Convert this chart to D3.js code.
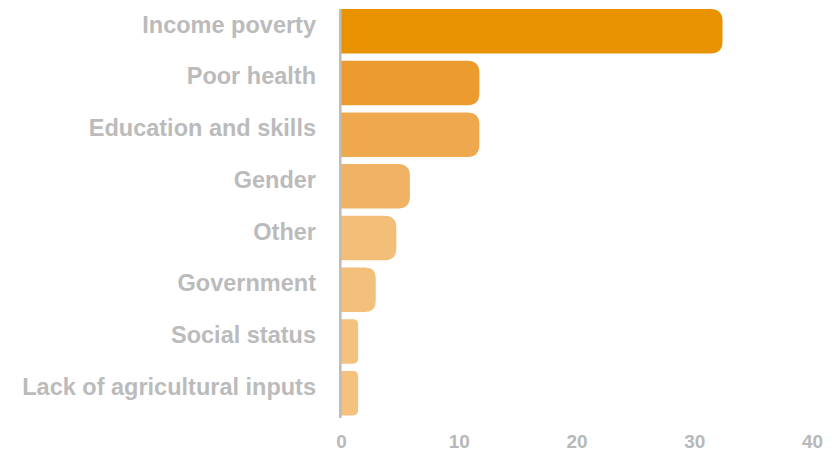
<!DOCTYPE html>
<html>
<head>
<meta charset="utf-8">
<script src="https://cdn.jsdelivr.net/npm/d3@7"></script>
<style>
  html, body { margin: 0; padding: 0; background: #ffffff; }
  svg { display: block; }
</style>
</head>
<body>
<svg id="chart" width="832" height="454"></svg>
<script>
// Barriers, share of responses (%)
const categories = [
  "Income poverty",
  "Poor health",
  "Education and skills",
  "Gender",
  "Other",
  "Government",
  "Social status",
  "Lack of agricultural inputs"
];
const values = [32.4, 11.75, 11.75, 5.85, 4.7, 2.95, 1.45, 1.45];
const barColors = ["#E89200", "#EC9C2F", "#EEA94F", "#F0B264", "#F3BE78", "#F3C07B", "#F4C27E", "#F4C27E"];
const tickValues = [0, 10, 20, 30, 40];

const svg = d3.select("#chart");
const labelGray = "#BBBBBB";

const x = d3.scaleLinear().domain([0, 40]).range([341, 812]);
const y = d3.scaleBand()
  .domain(categories)
  .range([9, 415.4])
  .paddingInner(0.14)
  .paddingOuter(0);

// bar with rounded right end only
function barPath(x0, x1, y0, h) {
  const w = x1 - x0;
  const r = Math.min(12, w * 0.3, h / 2);
  return `M${x0},${y0}` +
    `H${x1 - r}` +
    `Q${x1},${y0} ${x1},${y0 + r}` +
    `V${y0 + h - r}` +
    `Q${x1},${y0 + h} ${x1 - r},${y0 + h}` +
    `H${x0}Z`;
}

svg.append("g")
  .selectAll("path")
  .data(categories)
  .join("path")
  .attr("d", (c, i) => barPath(x(0), x(values[i]), y(c), y.bandwidth()))
  .attr("fill", (c, i) => barColors[i]);

// baseline
svg.append("line")
  .attr("x1", x(0) - 0.7).attr("x2", x(0) - 0.7)
  .attr("y1", 9).attr("y2", 418)
  .attr("stroke", "#BDBDBD")
  .attr("stroke-width", 2.6);

// category labels
svg.append("g")
  .selectAll("text")
  .data(categories)
  .join("text")
  .attr("x", 316)
  .attr("y", c => y(c) + y.bandwidth() / 2 - 7)
  .attr("dy", "0.36em")
  .attr("text-anchor", "end")
  .attr("font-family", "'Liberation Sans', Arial, sans-serif")
  .attr("font-weight", "bold")
  .attr("font-size", "23.5px")
  .attr("fill", labelGray)
  .text(c => c);

// value axis
const axis = d3.axisBottom(x)
  .tickValues(tickValues)
  .tickSize(0)
  .tickPadding(0)
  .tickFormat(d3.format("d"));

const ax = svg.append("g")
  .attr("transform", "translate(0,434)")
  .call(axis);
ax.select(".domain").remove();
ax.selectAll("text")
  .attr("dy", "0.71em")
  .attr("font-family", "'Liberation Sans', Arial, sans-serif")
  .attr("font-weight", "bold")
  .attr("font-size", "19px")
  .attr("fill", "#B8B8B8");
</script>
</body>
</html>
